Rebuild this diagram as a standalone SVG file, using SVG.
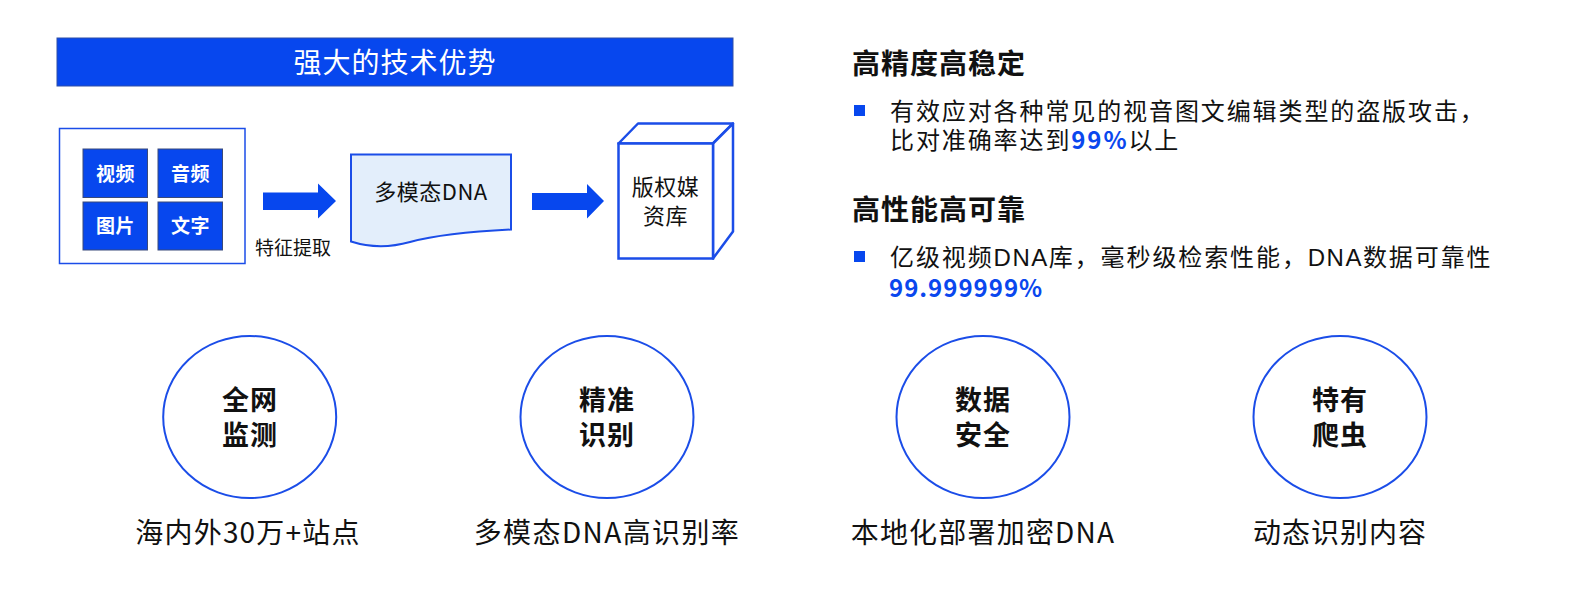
<svg xmlns="http://www.w3.org/2000/svg" width="1570" height="598" viewBox="0 0 1570 598">
<style>
text{font-family:"Noto Sans CJK SC","Noto Sans",sans-serif;fill:#111;}
.w{fill:#fff;}
.b{font-weight:bold;}
.blue{fill:#0a47ee;}
.mid{text-anchor:middle;}
.lat{font-family:"Liberation Sans","Noto Sans CJK SC",sans-serif;}
.tile{fill:#0747ee;stroke:#3a4a7a;stroke-width:1;}
.circ{fill:#fff;stroke:#1b4de8;stroke-width:2;}
.arrow{fill:#0747ee;}
</style>
<rect width="1570" height="598" fill="#fff"/>

<g id="title">
<rect x="57" y="38" width="676" height="48" fill="#0747ee" stroke="#2f4fa8" stroke-width="1"/>
<text class="w mid" x="395" y="72.5" font-size="28" letter-spacing="1">强大的技术优势</text>
</g>

<g id="sources">
<rect x="59.5" y="128.5" width="185.5" height="135" fill="#fff" stroke="#1b4de8" stroke-width="1.5"/>
<rect class="tile" x="83" y="149" width="64.5" height="48.5"/>
<rect class="tile" x="158" y="149" width="64.5" height="48.5"/>
<rect class="tile" x="83" y="202" width="64.5" height="48"/>
<rect class="tile" x="158" y="202" width="64.5" height="48"/>
<text class="w b mid" x="115.5" y="180.5" font-size="19" letter-spacing="0.5">视频</text>
<text class="w b mid" x="190.5" y="180.5" font-size="19" letter-spacing="0.5">音频</text>
<text class="w b mid" x="115.5" y="233" font-size="19" letter-spacing="0.5">图片</text>
<text class="w b mid" x="190.5" y="233" font-size="19" letter-spacing="0.5">文字</text>
</g>

<g id="connectors">
<polygon class="arrow" points="263,192.5 318,192.5 318,183.5 336,201 318,218.5 318,210 263,210"/>
<polygon class="arrow" points="532,193 587,193 587,184 604,201 587,218.5 587,210 532,210"/>
<text x="255" y="255" font-size="19">特征提取</text>
</g>

<g id="dna">
<path d="M351,154.5 L511,154.5 L511,229.5 C480,231 440,234 410,242 C385,249 365,246 351,241.5 Z" fill="#e3eefb" stroke="#1b4de8" stroke-width="2"/>
<text class="mid" x="431" y="199.5" font-size="22" letter-spacing="0.5">多模态DNA</text>
</g>

<g id="library">
<polygon points="618.5,143.5 638,123.5 733,123.5 713,143.5" fill="#fff" stroke="#1b4de8" stroke-width="2.5" stroke-linejoin="round"/>
<polygon points="713,143.5 733,123.5 733,231.5 713,258.5" fill="#fff" stroke="#1b4de8" stroke-width="2.5" stroke-linejoin="round"/>
<rect x="618.5" y="143.5" width="94.5" height="115" fill="#fff" stroke="#1b4de8" stroke-width="2.5"/>
<text class="mid" x="665.5" y="195" font-size="22" letter-spacing="0.5">版权媒</text>
<text class="mid" x="665.5" y="223.5" font-size="22" letter-spacing="0.5">资库</text>
</g>

<g id="feature1">
<text class="b" x="852" y="73.5" font-size="28" letter-spacing="1">高精度高稳定</text>
<rect x="854" y="105" width="11" height="11" fill="#0747ee"/>
<text font-size="24" letter-spacing="1.9"><tspan x="890" y="119.5">有效应对各种常见的视音图文编辑类型的盗版攻击，</tspan><tspan x="890" y="148.5">比对准确率达到<tspan class="blue" font-weight="bold">99%</tspan>以上</tspan></text>
</g>

<g id="feature2">
<text class="b" x="852" y="219.5" font-size="28" letter-spacing="1">高性能高可靠</text>
<rect x="854" y="251" width="11" height="11" fill="#0747ee"/>
<text font-size="24" letter-spacing="1.9"><tspan x="890" y="265.5">亿级视频<tspan class="lat" letter-spacing="1.5">DNA</tspan>库，毫秒级检索性能，<tspan class="lat" letter-spacing="1.5">DNA</tspan>数据可靠性</tspan><tspan class="blue" x="889" y="297" font-weight="bold" letter-spacing="1">99.999999%</tspan></text>
</g>

<g id="c1">
<ellipse class="circ" cx="249.7" cy="417" rx="86.5" ry="81"/>
<text class="b mid" x="250" y="410" font-size="27" letter-spacing="1">全网</text>
<text class="b mid" x="250" y="445" font-size="27" letter-spacing="1">监测</text>
<text class="mid" x="248" y="542.5" font-size="28" letter-spacing="1.2">海内外30万+站点</text>
</g>

<g id="c2">
<ellipse class="circ" cx="607" cy="417" rx="86.5" ry="81"/>
<text class="b mid" x="607" y="410" font-size="27" letter-spacing="1">精准</text>
<text class="b mid" x="607" y="445" font-size="27" letter-spacing="1">识别</text>
<text class="mid" x="607" y="542.5" font-size="28" letter-spacing="1.4">多模态DNA高识别率</text>
</g>

<g id="c3">
<ellipse class="circ" cx="983" cy="417" rx="86.5" ry="81"/>
<text class="b mid" x="983" y="410" font-size="27" letter-spacing="1">数据</text>
<text class="b mid" x="983" y="445" font-size="27" letter-spacing="1">安全</text>
<text class="mid" x="983" y="542.5" font-size="28" letter-spacing="1.2">本地化部署加密DNA</text>
</g>

<g id="c4">
<ellipse class="circ" cx="1340" cy="417" rx="86.5" ry="81"/>
<text class="b mid" x="1340" y="410" font-size="27" letter-spacing="1">特有</text>
<text class="b mid" x="1340" y="445" font-size="27" letter-spacing="1">爬虫</text>
<text class="mid" x="1340" y="542.5" font-size="28" letter-spacing="1">动态识别内容</text>
</g>
</svg>
